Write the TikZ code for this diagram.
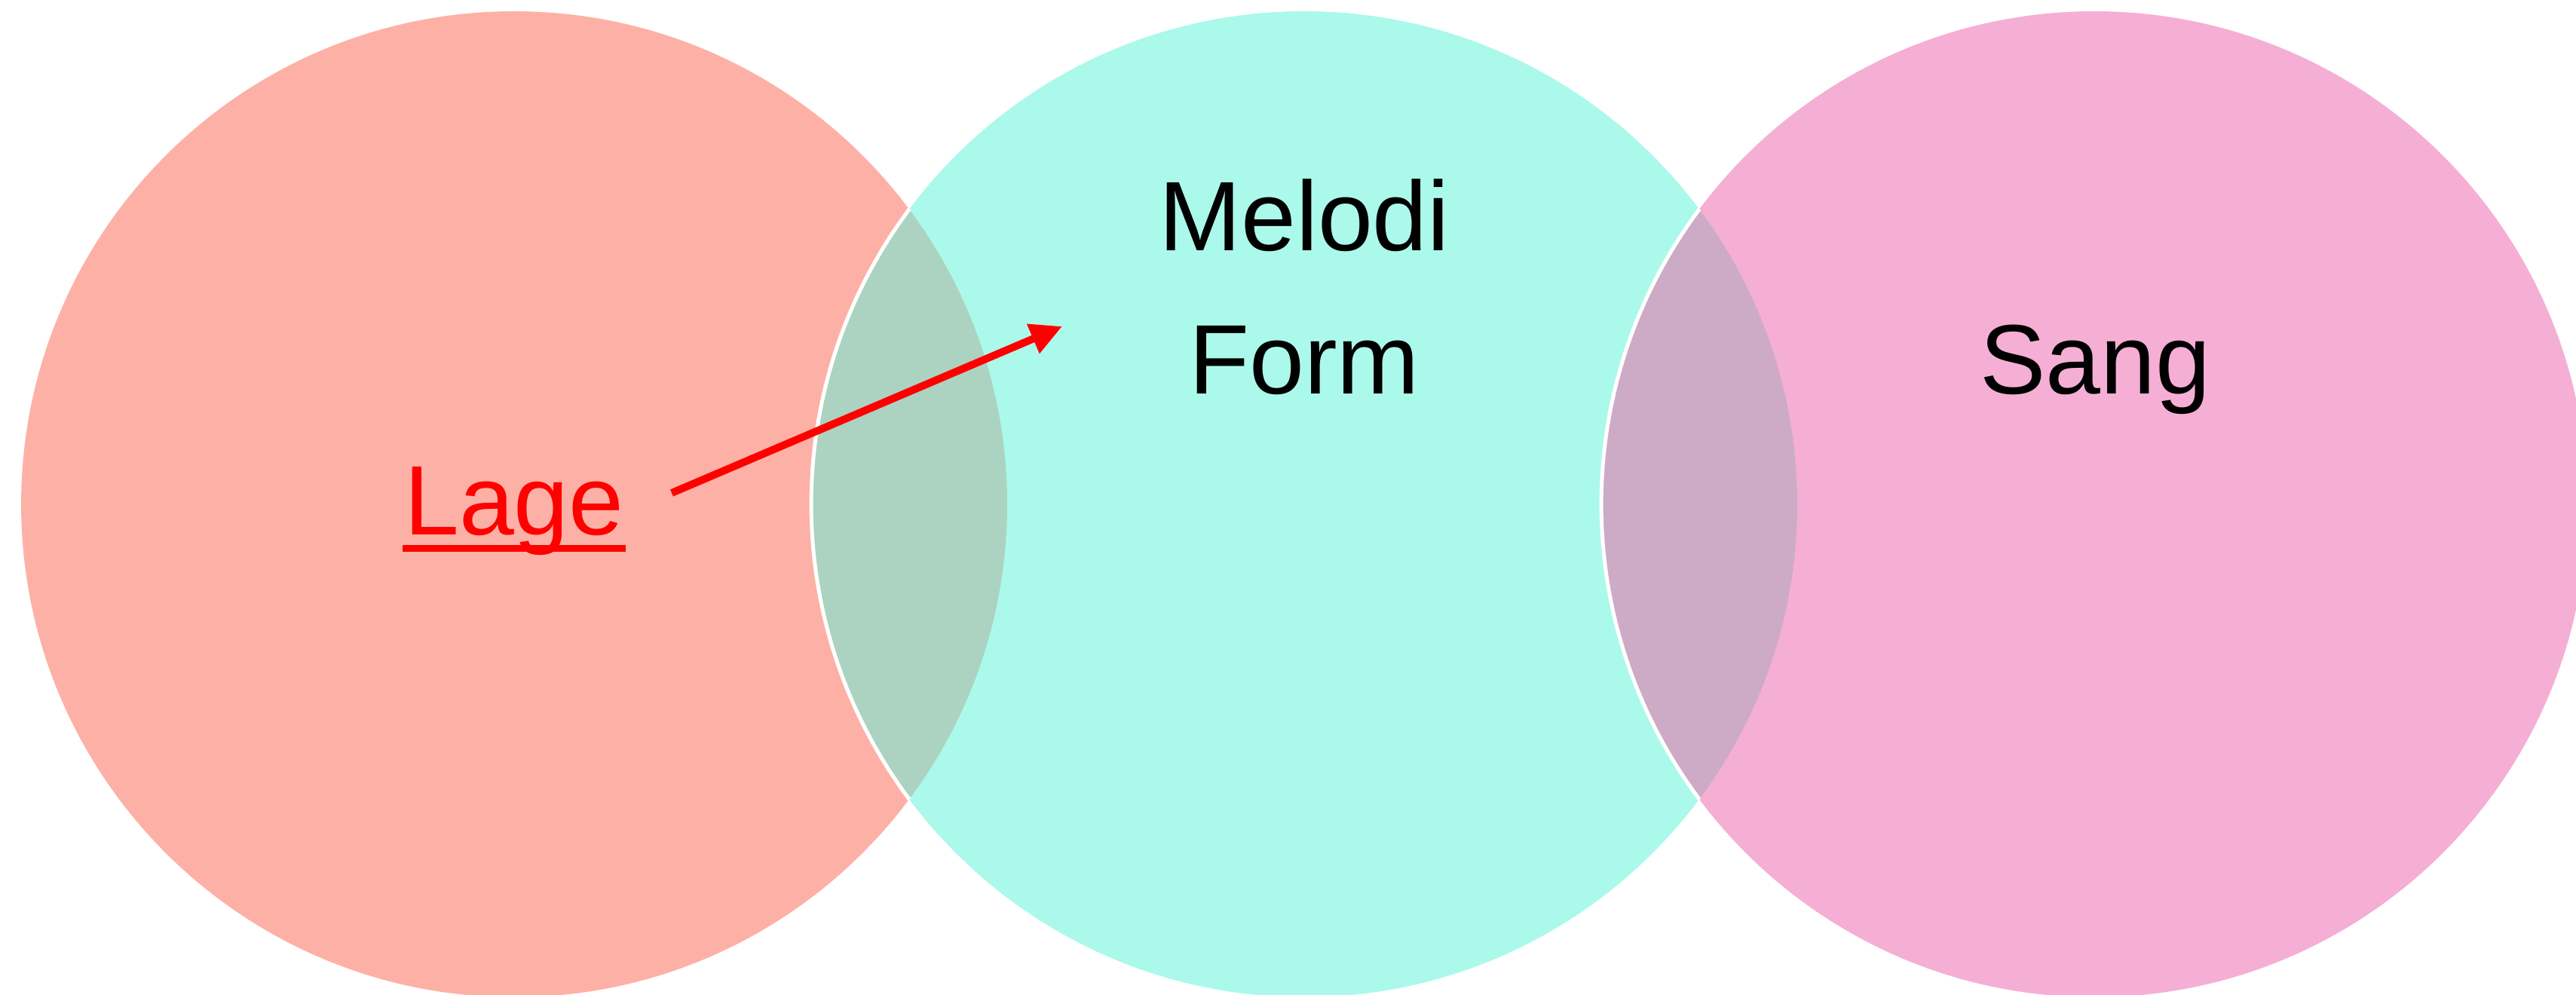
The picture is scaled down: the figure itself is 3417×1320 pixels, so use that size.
\documentclass[tikz,border=0pt]{standalone}
\usepackage{fontspec}
\setmainfont{Liberation Sans}
\usetikzlibrary{arrows.meta}
\definecolor{cSalmon}{HTML}{FDB1A6}
\definecolor{cAqua}{HTML}{ABF9EA}
\definecolor{cPink}{HTML}{F5AFD4}
\definecolor{cOvA}{HTML}{ACD3C1}
\definecolor{cOvB}{HTML}{CDABC7}
\tikzset{
  venn/.style={circle, minimum size=130.8pt, inner sep=0pt, draw=none},
  lbl/.style={anchor=base, inner sep=0pt, font=\fontsize{13.1}{16}\selectfont},
  rim/.style={draw=white, line width=0.5pt},
}
\begin{document}
\begin{tikzpicture}[x=0.1pt,y=-0.1pt]
\useasboundingbox (0,0) rectangle (3417,1320);
\begin{scope}
\clip (0,0) rectangle (3417,1320);
\node[venn, fill=cSalmon] (L) at (682,669) {};
\node[venn, fill=cAqua] (M) at (1730,669) {};
\node[venn, fill=cPink] (R) at (2778,669) {};
\begin{scope}
  \clip (682,669) circle [radius=65.4pt];
  \fill[cOvA] (1730,669) circle [radius=65.4pt];
\end{scope}
\begin{scope}
  \clip (1730,669) circle [radius=65.4pt];
  \fill[cOvB] (2778,669) circle [radius=65.4pt];
\end{scope}
\draw[rim] (M.center) ++(143.2:65.4pt) arc[start angle=143.2, end angle=216.8, radius=65.4pt];
\draw[rim] (R.center) ++(143.2:65.4pt) arc[start angle=143.2, end angle=216.8, radius=65.4pt];
\end{scope}
\node[lbl] (melodi) at (1730,333) {Melodi};
\node[lbl] (form) at (1730,523) {Form};
\node[lbl] (sang) at (2779,523) {Sang};
\node[lbl, text=red] (lage) at (682,710) {Lage};
\draw[red, line width=0.9pt] ([yshift=-1.8pt]lage.base west) -- ([yshift=-1.8pt]lage.base east);
\coordinate (a0) at (891,654);
\coordinate (a1) at (1409,433);
\draw[red, line width=1pt, -{Triangle[length=4.2pt,width=4pt]}] (a0) -- (a1);
\end{tikzpicture}
\end{document}
